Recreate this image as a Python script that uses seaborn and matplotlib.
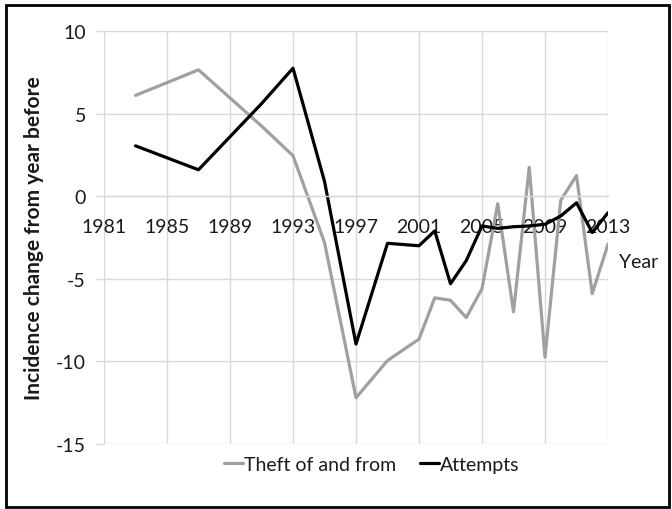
import matplotlib
matplotlib.use("Agg")
import matplotlib.pyplot as plt
import seaborn as sns
import pandas as pd
from matplotlib.patches import Rectangle

# Survey years and change from year before
years = [1983, 1987, 1991, 1993, 1995, 1997, 1999, 2001, 2002, 2003,
         2004, 2005, 2006, 2007, 2008, 2009, 2010, 2011, 2012, 2013]
theft = [6.1, 7.65, 4.25, 2.45, -2.8, -12.2, -9.95, -8.65, -6.15, -6.3,
         -7.35, -5.6, -0.45, -7.0, 1.75, -9.75, -0.25, 1.25, -5.9, -2.9]
attempts = [3.05, 1.6, 5.6, 7.75, 0.9, -8.95, -2.85, -3.0, -2.1, -5.3,
            -3.9, -1.8, -1.95, -1.85, -1.8, -1.7, -1.2, -0.4, -2.2, -1.0]
series_names = ["Theft of and from", "Attempts"]
x_ticks = list(range(1981, 2014, 4))
y_ticks = [-15, -10, -5, 0, 5, 10]

df = pd.DataFrame({
    "year": years * 2,
    "value": theft + attempts,
    "series": [series_names[0]] * len(years) + [series_names[1]] * len(years),
})

sns.set_style("white")
plt.rcParams["font.family"] = ["Lato", "DejaVu Sans"]
plt.rcParams["axes.unicode_minus"] = False

fig = plt.figure(figsize=(6.72, 5.10), dpi=100)
ax = fig.add_axes([104 / 672, 65 / 510, 504 / 672, 413 / 510])

grid_col = "#d9d9d9"
txt_col = "#1a1a1a"
fs = 14

sns.lineplot(
    data=df, x="year", y="value", hue="series",
    palette={series_names[0]: "#a0a0a0", series_names[1]: "#000000"},
    linewidth=2.3, ax=ax, legend=True,
)

ax.set_xlim(1981, 2013)
ax.set_ylim(-15, 10)
ax.set_xticks(x_ticks)
ax.set_yticks(y_ticks)
ax.grid(True, color=grid_col, linewidth=1.0)
ax.set_axisbelow(True)

for s in ["top", "right", "left"]:
    ax.spines[s].set_visible(False)
ax.spines["bottom"].set_position(("data", 0))
ax.spines["bottom"].set_color(grid_col)
ax.spines["bottom"].set_linewidth(1.0)

ax.tick_params(axis="x", length=0, pad=16, labelsize=fs, labelcolor=txt_col)
ax.tick_params(axis="y", length=6, color=grid_col, width=1.0, pad=7,
               labelsize=fs, labelcolor=txt_col, left=True)

ax.set_xlabel("")
ax.set_ylabel("Incidence change from year before", fontsize=15,
              fontweight="bold", color=txt_col)
ax.yaxis.set_label_coords(-0.12, 0.5)

ax.text(2013.7, -3.95, "Year", fontsize=fs, color=txt_col,
        ha="left", va="center", clip_on=False)

handles, labels = ax.get_legend_handles_labels()
ax.legend(handles, labels, loc="center", bbox_to_anchor=(0.553, 0.088),
          bbox_transform=fig.transFigure, ncol=2, frameon=False,
          fontsize=fs, handlelength=1.0, handletextpad=0.05,
          columnspacing=1.2, labelcolor=txt_col)

fig.patches.append(Rectangle((6 / 672, 2 / 510), 663 / 672, 502 / 510,
                             transform=fig.transFigure, fill=False,
                             edgecolor="black", linewidth=2.0))

fig.savefig("out.png", dpi=100)
